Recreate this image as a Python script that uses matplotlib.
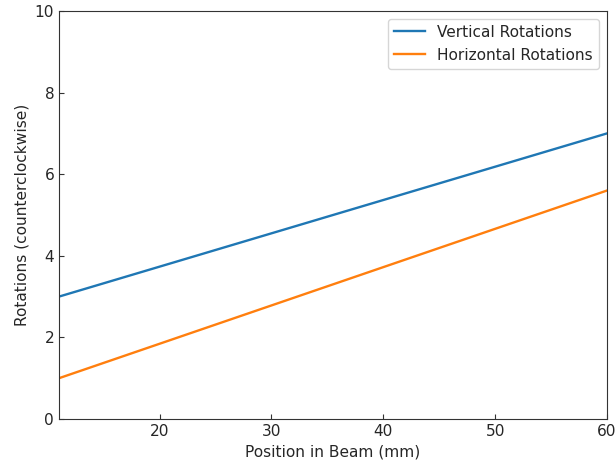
import matplotlib
matplotlib.use("Agg")
import matplotlib.pyplot as plt

# beam position (mm) and rotation counts at each end of the scan
position = [11, 60]
vertical = [3.0, 7.0]
horizontal = [1.0, 5.6]

plt.rcParams["font.size"] = 11.1

fig = plt.figure(figsize=(6.16, 4.66), dpi=100)
ax = fig.add_axes([59 / 616, 1 - 419 / 466, (607 - 59) / 616, (419 - 11) / 466])

ax.plot(position, vertical, color="#1f77b4", lw=1.7, label="Vertical Rotations")
ax.plot(position, horizontal, color="#ff7f0e", lw=1.7, label="Horizontal Rotations")

ax.set_xlim(11, 60)
ax.set_ylim(0, 10)
ax.set_xticks([20, 30, 40, 50, 60])
ax.set_yticks([0, 2, 4, 6, 8, 10])
ax.tick_params(direction="in", colors="#333333", labelcolor="#262626")
for s in ax.spines.values():
    s.set_color("#333333")

ax.set_xlabel("Position in Beam (mm)", color="#262626")
ax.set_ylabel("Rotations (counterclockwise)", color="#262626")
ax.legend(loc="upper right", labelcolor="#262626")

fig.savefig("out.png", dpi=100)
